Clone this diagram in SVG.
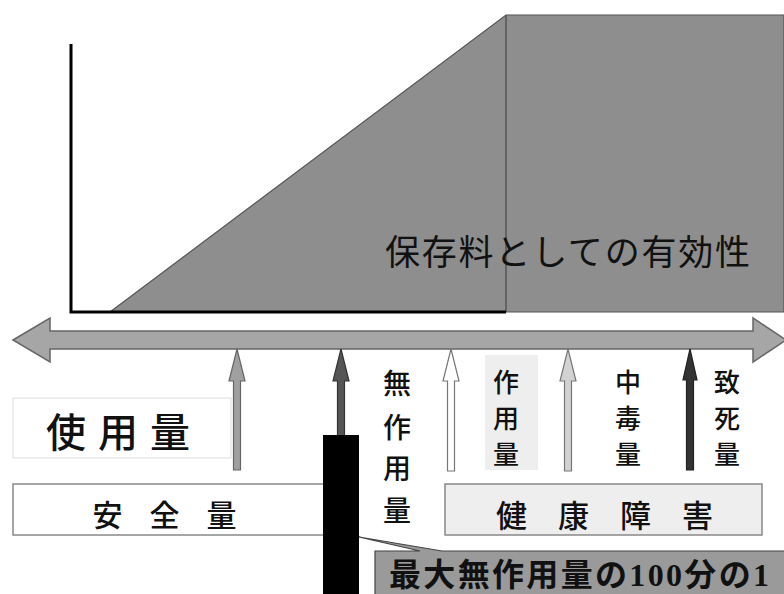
<svg xmlns="http://www.w3.org/2000/svg" width="784" height="594" viewBox="0 0 784 594">
<style>
.jp{font-family:"Noto Sans CJK JP","Liberation Sans",sans-serif;fill:#111;font-weight:500}
.v{font-size:26px;text-anchor:middle}
.up{stroke-width:1.2;stroke-linejoin:miter}
.cap{font-size:32px;font-weight:bold}
.num{font-family:"Liberation Serif",serif;font-weight:bold}
</style>
<rect width="784" height="594" fill="#fff"/>
<g id="chart">
<polygon points="110,312 506,15 784,15 784,312" fill="#8e8e8e" stroke="#555" stroke-width="1.2"/>
<line x1="506" y1="15" x2="506" y2="312" stroke="#555" stroke-width="1.5"/>
<polyline points="71,44 71,312 506,312" fill="none" stroke="#000" stroke-width="3"/>
<text class="jp" x="385" y="265" font-size="35" style="font-weight:400" textLength="365">保存料としての有効性</text>
</g>
<g id="axis">
<polygon points="13,340 50,318 50,331 753,331 753,318 786,340 753,362 753,349 50,349 50,362" fill="#a6a6a6" stroke="#666" stroke-width="1.5"/>
</g>
<g id="connectors">
<polygon class="up" points="237,349 245,381 240.5,381 240.5,470 233.5,470 233.5,381 229,381" fill="#a0a0a0" stroke="#666"/>
<polygon class="up" points="341,349 349,381 344.5,381 344.5,440 337.5,440 337.5,381 333,381" fill="#555" stroke="#333"/>
<polygon class="up" points="451,349 459,381 454.5,381 454.5,471 447.5,471 447.5,381 443,381" fill="#fff" stroke="#777"/>
<polygon class="up" points="568,349 576,381 571.5,381 571.5,471 564.5,471 564.5,381 560,381" fill="#d2d2d2" stroke="#777"/>
<polygon class="up" points="690,349 697,380 693.5,380 693.5,470 686.5,470 686.5,380 683,380" fill="#333" stroke="#222"/>
</g>
<g id="shiyouryou">
<rect x="13" y="398" width="218" height="60" fill="#fff" stroke="#ddd" stroke-width="1"/>
<text class="jp" x="124" y="447" font-size="40" text-anchor="middle" letter-spacing="12">使用量</text>
</g>
<g id="anzenryou">
<rect x="13" y="484" width="315" height="51" fill="#fff" stroke="#888" stroke-width="1.5"/>
<text class="jp" x="178" y="526" font-size="30" text-anchor="middle" letter-spacing="27">安全量</text>
</g>
<g id="kenkoushougai">
<rect x="445" y="484" width="317" height="51" fill="#eee" stroke="#888" stroke-width="1.5"/>
<text class="jp" x="620" y="527" font-size="31" text-anchor="middle" letter-spacing="31">健康障害</text>
</g>
<g id="musayouryou">
<text class="jp" font-size="28" text-anchor="middle"><tspan x="397" y="394">無</tspan><tspan x="397" y="438">作</tspan><tspan x="397" y="479">用</tspan><tspan x="397" y="521">量</tspan></text>
</g>
<g id="sayouryou">
<rect x="485" y="355" width="53" height="115" fill="#eee"/>
<text class="jp v"><tspan x="506" y="392">作</tspan><tspan x="506" y="428">用</tspan><tspan x="506" y="464">量</tspan></text>
</g>
<g id="chuudokuryou">
<text class="jp v"><tspan x="628" y="392">中</tspan><tspan x="628" y="428">毒</tspan><tspan x="628" y="464">量</tspan></text>
</g>
<g id="chishiryou">
<text class="jp v"><tspan x="727" y="392">致</tspan><tspan x="727" y="428">死</tspan><tspan x="727" y="464">量</tspan></text>
</g>
<g id="bar">
<rect x="323" y="435" width="36" height="160" fill="#000"/>
</g>
<g id="callout">
<path d="M375,551 L420,551 L359,537 L442,551 L790,551 L790,600 L375,600 Z" fill="#9a9a9a" stroke="#444" stroke-width="1.2"/>
<text class="jp cap" x="389" y="586" textLength="380">最大無作用量の<tspan class="num">100</tspan>分の<tspan class="num">1</tspan></text>
</g>
</svg>
